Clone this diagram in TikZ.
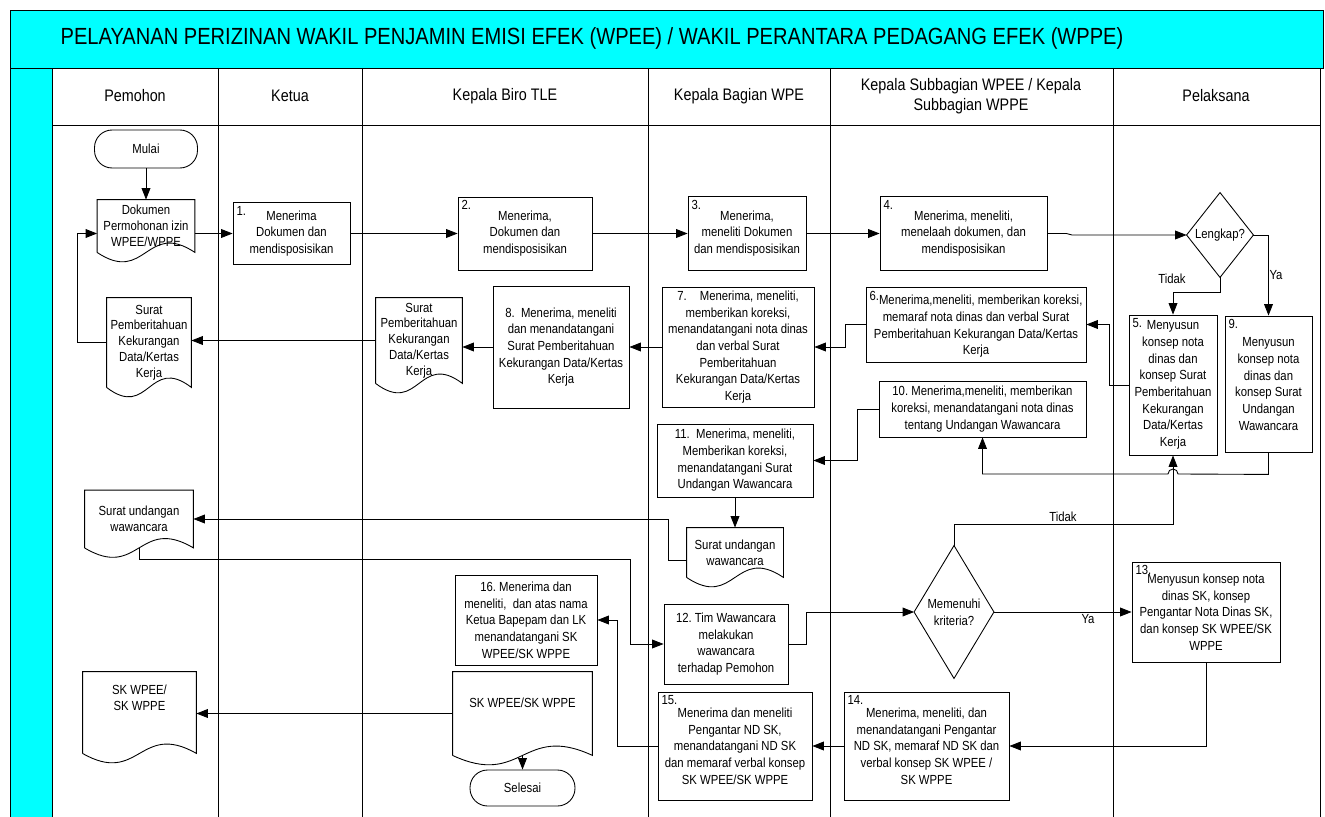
\documentclass[tikz,border=0pt]{standalone}
\usepackage{fontspec}
\setmainfont[FakeStretch=0.86]{Liberation Sans}
\usetikzlibrary{arrows.meta,calc}
\definecolor{lanecyan}{RGB}{0,255,255}

\tikzset{
  box/.style={draw, align=center, inner sep=2pt},
  doc/.style={align=center, inner sep=0pt, font=\fontsize{7.5}{9}\selectfont},
  term/.style={draw, rounded corners=10pt, align=center},
  cond/.style={align=center, inner sep=0pt},
  arr/.style={-{Triangle[length=6.5pt,width=5pt]}},
  stepno/.style={label={[anchor=north west,inner sep=2pt]north west:#1}},
  lane/.style={font=\fontsize{9.5}{11.5}\selectfont, align=center}
}

\begin{document}
\begin{tikzpicture}[x=0.02cm, y=-0.02cm, line width=0.5pt, font=\fontsize{7.5}{9.5}\selectfont]
        \useasboundingbox (0,0) rectangle (1325,817);
        % title and lanes
        \draw[fill=lanecyan] (10,10) rectangle (1323,68);
        \draw[fill=lanecyan] (10,68) rectangle (52,817);
        \node (title) at (592,38) {\fontsize{13.3}{15}\selectfont PELAYANAN PERIZINAN WAKIL PENJAMIN EMISI EFEK (WPEE) / WAKIL PERANTARA PEDAGANG EFEK (WPPE)};
        \draw (52,125) -- (1320,125);
        \foreach \x in {218,362,648,830,1113,1320}
            \draw (\x,68) -- (\x,817);
        \node[lane] (hpem) at (135,96) {Pemohon};
        \node[lane] (hket) at (290,96) {Ketua};
        \node[lane] (hbiro) at (505,96) {Kepala Biro TLE};
        \node[lane] (hbag) at (739,96) {Kepala Bagian WPE};
        \node[lane] (hsub) at (971,96) {Kepala Subbagian WPEE / Kepala\\Subbagian WPPE};
        \node[lane] (hpel) at (1216,96) {Pelaksana};

        % steps
        \node[term, minimum width=2.06cm, minimum height=0.76cm] (mulai) at (146,149) {Mulai};
        \node[doc, minimum width=1.94cm, minimum height=1.04cm] (d1) at (146,226) {Dokumen\\Permohonan izin\\WPEE/WPPE};
        \node[box, stepno=1., minimum width=2.34cm, minimum height=1.24cm] (b1) at (291.5,233.5) {Menerima\\Dokumen dan\\mendisposisikan};
        \node[box, stepno=2., minimum width=2.68cm, minimum height=1.46cm] (b2) at (525,233.5) {Menerima,\\Dokumen dan\\mendisposisikan};
        \node[box, stepno=3., minimum width=2.36cm, minimum height=1.48cm] (b3) at (747,233.5) {Menerima,\\meneliti Dokumen\\dan mendisposisikan};
        \node[box, stepno=4., minimum width=3.34cm, minimum height=1.48cm] (b4) at (963.5,233.5) {Menerima, meneliti,\\menelaah dokumen, dan\\mendisposisikan};
        \node[cond, minimum width=1.32cm, minimum height=1.68cm] (lk) at (1220,235) {Lengkap?};
        \node[box, stepno=5., minimum width=1.76cm, minimum height=2.8cm] (b5) at (1173,385) {Menyusun\\konsep nota\\dinas dan\\konsep Surat\\Pemberitahuan\\Kekurangan\\Data/Kertas\\Kerja};
        \node[box, stepno=9., minimum width=1.74cm, minimum height=2.72cm] (b9) at (1268.5,384) {Menyusun\\konsep nota\\dinas dan\\konsep Surat\\Undangan\\Wawancara};
        \node[box, inner sep=1pt, minimum width=4.4cm, minimum height=1.5cm] (b6) at (976,324.5) {\raisebox{2.5pt}{6.}Menerima,meneliti, memberikan koreksi,\\memaraf nota dinas dan verbal Surat\\Pemberitahuan Kekurangan Data/Kertas\\Kerja};
        \node[box, minimum width=3.04cm, minimum height=2.4cm] (b7) at (738,347) {7.\quad Menerima, meneliti,\\memberikan koreksi,\\menandatangani nota dinas\\dan verbal Surat\\Pemberitahuan\\Kekurangan Data/Kertas\\Kerja};
        \node[box, minimum width=2.72cm, minimum height=2.44cm] (b8) at (561,347) {8.\ \ Menerima, meneliti\\dan menandatangani\\Surat Pemberitahuan\\Kekurangan Data/Kertas\\Kerja};
        \node[doc, minimum width=1.72cm, minimum height=1.7cm] (dB) at (419,340.5) {Surat\\Pemberitahuan\\Kekurangan\\Data/Kertas\\Kerja};
        \node[doc, minimum width=1.68cm, minimum height=1.78cm] (dP) at (149,342.5) {Surat\\Pemberitahuan\\Kekurangan\\Data/Kertas\\Kerja};
        \node[box, minimum width=4.14cm, minimum height=1.12cm] (b10) at (982.5,409) {10.\ Menerima,meneliti, memberikan\\koreksi, menandatangani nota dinas\\tentang Undangan Wawancara};
        \node[box, minimum width=3.12cm, minimum height=1.46cm] (b11) at (735,460.5) {11.\ \ Menerima, meneliti,\\Memberikan koreksi,\\menandatangani Surat\\Undangan Wawancara};
        \node[doc, minimum width=1.92cm, minimum height=0.98cm] (du) at (735,552.5) {Surat undangan\\wawancara};
        \node[doc, minimum width=2.16cm, minimum height=1.14cm] (dpu) at (139,519) {Surat undangan\\wawancara};
        \node[cond, minimum width=1.58cm, minimum height=2.64cm] (mk) at (954,612) {Memenuhi\\kriteria?};
        \node[box, stepno=13., minimum width=2.96cm, minimum height=2.0cm] (b13) at (1206,612) {Menyusun konsep nota\\dinas SK, konsep\\Pengantar Nota Dinas SK,\\dan konsep SK WPEE/SK\\WPPE};
        \node[box, minimum width=2.48cm, minimum height=1.6cm] (b12) at (726,644) {12.\ Tim Wawancara\\melakukan\\wawancara\\terhadap Pemohon};
        \node[box, minimum width=2.84cm, minimum height=1.8cm] (b16) at (526,620) {16.\ Menerima dan\\meneliti,\ \ dan atas nama\\Ketua Bapepam dan LK\\menandatangani SK\\WPEE/SK WPPE};
        \node[doc, minimum width=2.78cm, minimum height=1.66cm] (dSB) at (522.5,713.5) {SK WPEE/SK WPPE\\[3pt]};
        \node[term, minimum width=2.1cm, minimum height=0.72cm] (sel) at (522.5,788) {Selesai};
        \node[box, stepno=15., minimum width=3.08cm, minimum height=2.16cm] (b15) at (735,746) {Menerima dan meneliti\\Pengantar ND SK,\\menandatangani ND SK\\dan memaraf verbal konsep\\SK WPEE/SK WPPE};
        \node[box, stepno=14., minimum width=3.3cm, minimum height=2.16cm] (b14) at (926.5,746) {Menerima, meneliti, dan\\menandatangani Pengantar\\ND SK, memaraf ND SK dan\\verbal konsep SK WPEE /\\SK WPPE};
        \node[doc, minimum width=2.26cm, minimum height=1.62cm] (dSP) at (139.5,712.5) {SK WPEE/\\SK WPPE\\[8pt]};

        % document and decision outlines
        \foreach \d in {d1,dP,dB,du,dpu,dSB,dSP}
            \draw (\d.south west) -- (\d.north west) -- (\d.north east) -- (\d.south east)
                .. controls ($(\d.south)+(0,0.65cm)$) and ($(\d.south)+(0,-0.65cm)$) .. (\d.south west);
        \foreach \c in {lk,mk}
            \draw (\c.north) -- (\c.east) -- (\c.south) -- (\c.west) -- cycle;

        % labels
        \node (tdk1) at (1172,279) {Tidak};
        \node (ya1) at (1276,275) {Ya};
        \node (tdk2) at (1063,517) {Tidak};
        \node (ya2) at (1088,619) {Ya};

        % flow
        \draw[arr] (mulai) -- (d1);
        \draw[arr] (d1.east |- b1.west) -- (b1.west);
        \draw[arr] (b1) -- (b2);
        \draw[arr] (b2) -- (b3);
        \draw[arr] (b3) -- (b4);
        \draw[arr] (b4.east) -- ++(19,0) -- (lk.west -| 1072,0) -- (lk.west);
        \draw[arr] (lk.south) -- ++(0,15) -| (b5.north);
        \draw[arr] (lk.east) -| (b9.north);
        \draw[arr] (b5.west) -- ++(-19,0) |- (b6.east);
        \draw[arr] (b6.west) -- ++(-20,0) |- (b7.east);
        \draw[arr] (b7) -- (b8);
        \draw[arr] (b8.west) -- (b8.west -| dB.east);
        \draw[arr] (dB.west) -- (dB.west -| dP.east);
        \draw[arr] (dP.west) -- ++(-29,0) |- (d1.west |- b1.west);
        \draw[arr] (b9.south) -- ++(0,22) -- (1178,474) arc[start angle=0, end angle=-180, radius=5] -- (b10.south |- 0,474) -- (b10.south);
        \draw[arr] (b10.west) -- ++(-21,0) |- (b11.east);
        \draw[arr] (b11) -- (du);
        \draw[arr] ([yshift=-0.16cm]du.west) -- ++(-18,0) |- (dpu.east);
        \draw[arr] (dpu.south) -- ++(0,12) -- ++(491,0) |- (b12.west);
        \draw[arr] (b12.east) -- ++(18,0) |- (mk.west);
        \draw[arr] (mk) -- (b13);
        \draw[arr] (mk.north) -- ++(0,-21) -| (b5.south);
        \draw[arr] (b13.south) |- (b14.east);
        \draw[arr] (b14) -- (b15);
        \draw[arr] (b15.west) -- ++(-40,0) |- (b16.east);
        \draw[arr] (dSB.west) -- (dSB.west -| dSP.east);
        \draw[arr] (dSB.south) -- (sel.north);
\end{tikzpicture}
\end{document}
